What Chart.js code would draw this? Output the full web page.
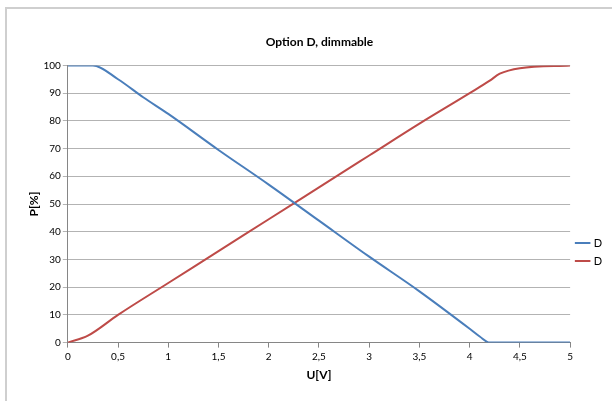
<!DOCTYPE html>
<html>
<head>
<meta charset="utf-8">
<script src="https://cdn.jsdelivr.net/npm/chart.js@4.4.1/dist/chart.umd.min.js"></script>
<style>
  body { margin: 0; background: #fff; }
  #frame { position: absolute; left: 5px; top: 7px; width: 620px; height: 410px; border: 2px solid #cfcfcf; }
  #wrap { position: absolute; left: 0; top: 0; width: 605px; height: 392px; }
</style>
</head>
<body>
<div id="frame"><div id="wrap"><canvas id="chart"></canvas></div></div>
<script>
// voltage U[V] against power P[%]
const blueU = [0, 0.25, 0.5, 0.75, 1, 1.5, 2, 2.5, 3, 3.5, 4, 4.1, 4.2, 4.5, 5];
const blueP = [100, 100, 95, 88.5, 82.5, 69.5, 57, 44, 31, 18.5, 5, 2.2, 0, 0, 0];

const redU = [0, 0.2, 0.5, 1, 1.5, 2, 2.5, 3, 3.5, 4, 4.2, 4.3, 4.5, 5];
const redP = [0, 2.5, 10, 21.5, 33, 44.5, 56, 67.5, 79, 90, 94.5, 97, 99, 100];

const seriesNames = ['D', 'D'];

const toPoints = (us, ps) => us.map((u, i) => ({ x: u, y: ps[i] }));

const font = { family: 'Lato, "Open Sans", sans-serif', size: 10 };

new Chart(document.getElementById('chart'), {
  type: 'scatter',
  data: {
    datasets: [{
      label: seriesNames[0],
      data: toPoints(blueU, blueP),
      borderColor: '#4a7ebb',
      backgroundColor: '#4a7ebb',
      showLine: true,
      borderWidth: 2,
      pointRadius: 0,
      cubicInterpolationMode: 'monotone'
    }, {
      label: seriesNames[1],
      data: toPoints(redU, redP),
      borderColor: '#be4b48',
      backgroundColor: '#be4b48',
      showLine: true,
      borderWidth: 2,
      pointRadius: 0,
      cubicInterpolationMode: 'monotone'
    }]
  },
  options: {
    responsive: true,
    maintainAspectRatio: false,
    animation: false,
    layout: { padding: { left: 20, right: 0, top: 0, bottom: 19 } },
    plugins: {
      title: {
        display: true,
        text: 'Option D, dimmable',
        color: '#000',
        font: { family: font.family, size: 12, weight: 'bold' },
        padding: { top: 26, bottom: 16 }
      },
      legend: {
        position: 'right',
        // blank legend title only pushes the entries down
        title: { display: true, text: ' ', padding: { top: 100, bottom: 0 }, font: { size: 11 } },
        labels: {
          usePointStyle: true,
          pointStyle: 'line',
          boxWidth: 18,
          color: '#000',
          font: { family: font.family, size: 11 },
          padding: 7
        }
      },
      tooltip: { enabled: false }
    },
    scales: {
      x: {
        type: 'linear',
        min: 0,
        max: 5,
        ticks: {
          stepSize: 0.5,
          color: '#000',
          font: font,
          callback: v => String(v).replace('.', ',')
        },
        grid: { display: true, drawOnChartArea: false, drawTicks: true, tickLength: 5, color: '#868686' },
        border: { color: '#868686' },
        title: {
          display: true,
          text: 'U[V]',
          color: '#000',
          font: { family: font.family, size: 12, weight: 'bold' },
          padding: { top: 2, bottom: 0 }
        }
      },
      y: {
        min: 0,
        max: 100,
        ticks: { stepSize: 10, color: '#000', font: font, padding: 2 },
        grid: { color: '#b3b3b3', tickLength: 5 },
        border: { color: '#868686' },
        title: {
          display: true,
          text: 'P[%]',
          color: '#000',
          font: { family: font.family, size: 12, weight: 'bold' },
          padding: { top: 0, bottom: 0 }
        }
      }
    }
  }
});
</script>
</body>
</html>
